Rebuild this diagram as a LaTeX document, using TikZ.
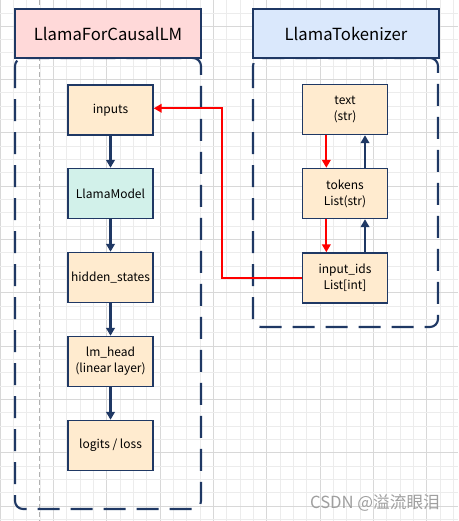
\documentclass[tikz,border=0pt]{standalone}
\usepackage{fontspec}
\setmainfont{Noto Sans CJK SC}
\usetikzlibrary{arrows.meta,positioning}

\definecolor{navy}{HTML}{1F3864}
\definecolor{boxfill}{HTML}{FFEBCF}
\definecolor{modelfill}{HTML}{D2F1EA}
\definecolor{headred}{HTML}{FFD9D9}
\definecolor{headblue}{HTML}{DAE8FC}
\definecolor{gridminor}{HTML}{ECECEC}
\definecolor{gridmajor}{HTML}{D8D8D8}

\tikzset{
  layer/.style={draw=navy,line width=1.1pt,fill=boxfill,minimum width=63.75pt,
    minimum height=37.5pt,align=center,inner sep=1pt,font=\fontsize{9}{12}\selectfont},
  header/.style={draw=navy,line width=1.2pt,minimum width=139.5pt,minimum height=36.75pt,
    inner sep=1pt,font=\fontsize{12.5}{14}\selectfont},
  group/.style={draw=navy,line width=1.6pt,dash pattern=on 16.5pt off 8.25pt,rounded corners=6pt},
  flow/.style={draw=navy,line width=1.7pt,-{Triangle[length=6pt,width=6.5pt]}},
  redflow/.style={draw=red,line width=1.4pt,-{Triangle[length=6pt,width=6.5pt]}},
}

\begin{document}
\begin{tikzpicture}[x=0.75pt,y=-0.75pt]
  \useasboundingbox (0,0) rectangle (458,521);
  \fill[white] (0,0) rectangle (458,521);
  % background grid
  \foreach \k in {0,...,34} {
    \pgfmathsetmacro{\gx}{\k*13.333}
    \pgfmathtruncatemacro{\gm}{mod(\k,4)}
    \ifnum\gm=0 \draw[gridmajor,line width=0.6pt] (\gx,0) -- (\gx,521);
    \else \draw[gridminor,line width=0.6pt] (\gx,0) -- (\gx,521); \fi
  }
  \foreach \k in {0,...,38} {
    \pgfmathsetmacro{\gy}{12.9+\k*13.333}
    \pgfmathtruncatemacro{\gm}{mod(\k,4)}
    \ifnum\gm=1 \draw[gridmajor,line width=0.6pt] (0,\gy) -- (458,\gy);
    \else \draw[gridminor,line width=0.6pt] (0,\gy) -- (458,\gy); \fi
  }
  \draw[gray!60,line width=0.6pt,dash pattern=on 4pt off 2pt] (39.5,0) -- (39.5,521); % guide

  % containers
  \draw[group] (15,58) rectangle (201,509);
  \draw[group] (253,58) rectangle (438,327);

  % headers
  \node[header,fill=headred] (causal) at (108,33.5) {LlamaForCausalLM};
  \node[header,fill=headblue] (tokenizer) at (346,33.5) {LlamaTokenizer};

  % model side
  \node[layer] (inputs) at (110.5,110) {inputs};
  \node[layer,fill=modelfill] (model) at (110.5,193.5) {LlamaModel};
  \node[layer] (hidden) at (110.5,277.5) {hidden\_states};
  \node[layer] (lmhead) at (110.5,361.5) {lm\_head\\(linear layer)};
  \node[layer] (logits) at (110.5,445.5) {logits / loss};

  % tokenizer side
  \node[layer] (text) at (345,109.5) {text\\(str)};
  \node[layer] (tokens) at (345,193.5) {tokens\\List(str)};
  \node[layer] (ids) at (345,278) {input\_ids\\List[int]};

  \draw[flow] (inputs) -- (model);
  \draw[flow] (model) -- (hidden);
  \draw[flow] (hidden) -- (lmhead);
  \draw[flow] (lmhead) -- (logits);

  \draw[redflow] ([xshift=-14pt]text.south) -- ([xshift=-14pt]tokens.north);
  \draw[redflow] ([xshift=-14pt]tokens.south) -- ([xshift=-14pt]ids.north);
  \draw[flow] ([xshift=15pt]ids.north) -- ([xshift=15pt]tokens.south);
  \draw[flow] ([xshift=15pt]tokens.north) -- ([xshift=15pt]text.south);

  \draw[redflow] (ids.west) -- ++(-80,0) |- ([yshift=1.3pt]inputs.east);

  % watermark
  \node[text=gray!75,font=\fontsize{12.5}{14}\selectfont] (mark) at (375,503) {CSDN @溢流眼泪};
\end{tikzpicture}
\end{document}
